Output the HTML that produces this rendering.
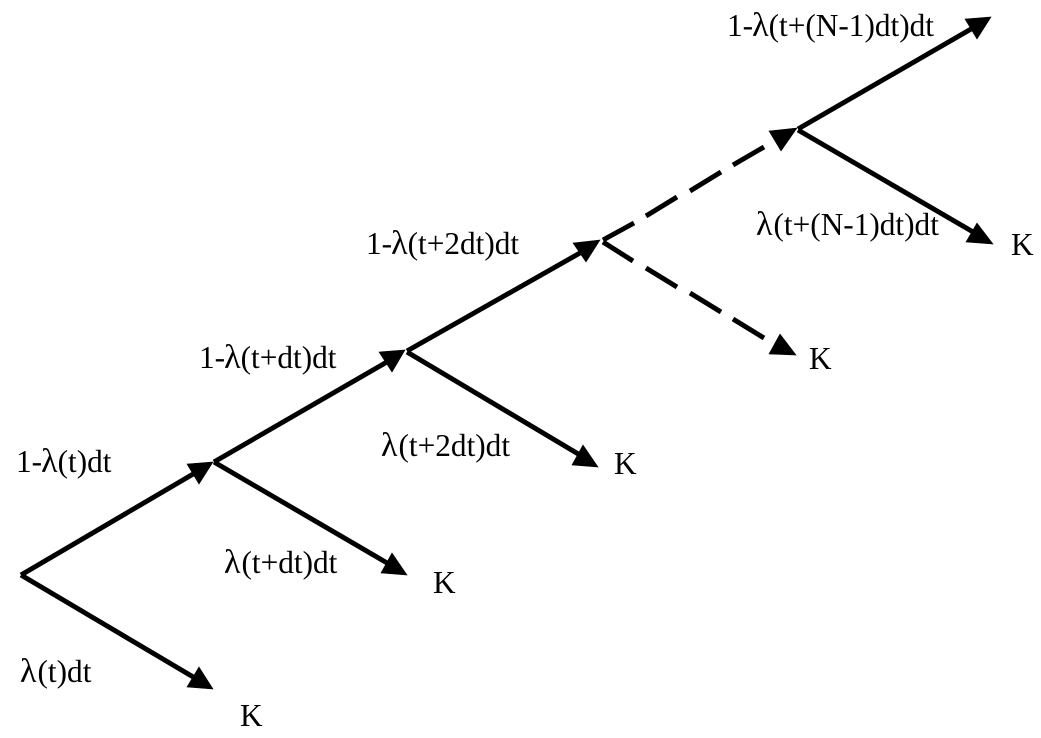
<!DOCTYPE html>
<html lang="en">
<head>
<meta charset="utf-8">
<title>Default event tree</title>
<style>
  html, body { margin: 0; padding: 0; background: #fff; }
  svg { display: block; }
  text { font-family: "Liberation Serif", serif; font-size: 31.3px; fill: #000; }
  .lam { font-size: 34px; }
  line { stroke: #000; stroke-width: 4.9; fill: none; }
  polygon { fill: #000; stroke: #000; stroke-width: 0.6; }
</style>
</head>
<body>
<svg width="1041" height="738" viewBox="0 0 1041 738" xmlns="http://www.w3.org/2000/svg">
  <rect width="1041" height="738" fill="#fff"/>

  <!-- Survival branches -->
  <line x1="21" y1="575" x2="200" y2="470"/>
  <polygon points="187,464 213,462 199,484"/>
  <line x1="214" y1="462" x2="392" y2="359"/>
  <polygon points="379,352 405,350 392,372"/>
  <line x1="407" y1="351" x2="587" y2="249"/>
  <polygon points="573,243 600,240 586,262"/>
  <g>
    <line x1="603" y1="240" x2="634" y2="223"/>
    <line x1="646" y1="216" x2="677" y2="197"/>
    <line x1="690" y1="191" x2="721" y2="172"/>
    <line x1="733" y1="165" x2="764" y2="147"/>
  </g>
  <polygon points="769,131 797,128 781,151"/>
  <line x1="798" y1="129" x2="978" y2="25"/>
  <polygon points="965,19 991,17 977,39"/>

  <!-- Default branches -->
  <line x1="21" y1="575" x2="200" y2="681"/>
  <polygon points="199,667 213,689 187,687"/>
  <line x1="214" y1="462" x2="394" y2="567"/>
  <polygon points="392,553 407,575 381,573"/>
  <line x1="407" y1="352" x2="585" y2="458"/>
  <polygon points="583,445 598,467 572,465"/>
  <g>
    <line x1="603" y1="242" x2="633" y2="261"/>
    <line x1="646" y1="268" x2="677" y2="287"/>
    <line x1="690" y1="293" x2="721" y2="312"/>
    <line x1="733" y1="319" x2="764" y2="338"/>
  </g>
  <polygon points="780,334 796,355 769,354"/>
  <line x1="798" y1="130" x2="980" y2="236"/>
  <polygon points="977,223 993,244 966,242"/>

  <!-- Probability labels -->
  <text x="16" y="472">1-<tspan class="lam" dx="-1">λ</tspan>(t)dt</text>
  <text x="20" y="682"><tspan class="lam">λ</tspan><tspan dx="1">(t)dt</tspan></text>
  <text x="199" y="368">1-<tspan class="lam" dx="-1">λ</tspan>(t+dt)dt</text>
  <text x="224" y="573"><tspan class="lam">λ</tspan><tspan dx="1">(t+dt)dt</tspan></text>
  <text x="366" y="254">1-<tspan class="lam" dx="-1">λ</tspan>(t+2dt)dt</text>
  <text x="381" y="456"><tspan class="lam">λ</tspan><tspan dx="1">(t+2dt)dt</tspan></text>
  <text x="727" y="36">1-<tspan class="lam" dx="-1">λ</tspan>(t+(N-1)dt)dt</text>
  <text x="756" y="235"><tspan class="lam">λ</tspan><tspan dx="1">(t+(N-1)dt)dt</tspan></text>

  <!-- Terminal K labels -->
  <text x="240" y="726">K</text>
  <text x="433" y="593">K</text>
  <text x="614" y="474">K</text>
  <text x="809" y="369">K</text>
  <text x="1011" y="255">K</text>
</svg>
</body>
</html>
